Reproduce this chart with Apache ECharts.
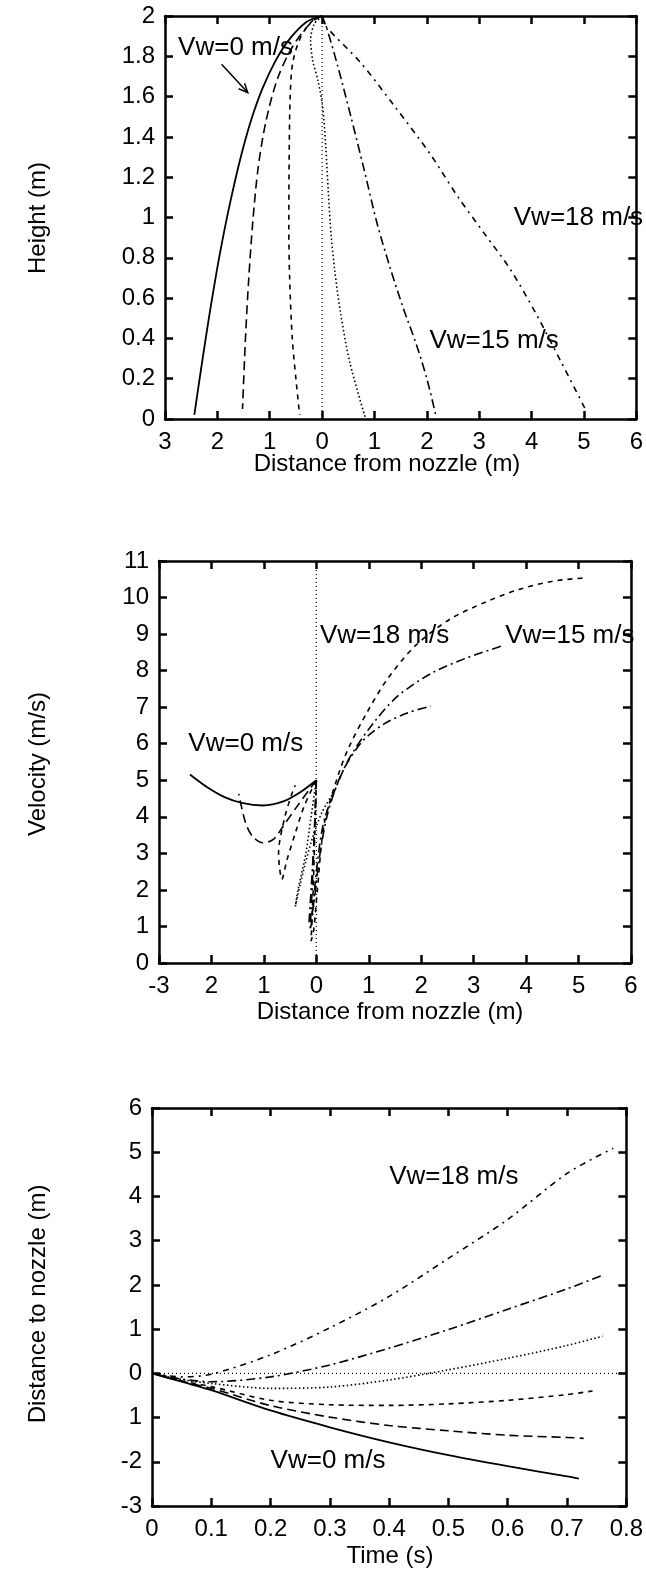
<!DOCTYPE html>
<html><head><meta charset="utf-8">
<script src="https://cdn.jsdelivr.net/npm/echarts@6/dist/echarts.min.js"></script>
<style>html,body{margin:0;padding:0;background:#fff}#c{width:646px;height:1573px}</style>
</head><body><div id="c"></div>
<script>
// ---------- tick labels ----------
const p1XTicks = ['3','2','1','0','1','2','3','4','5','6'];
const p1YTicks = ['0','0.2','0.4','0.6','0.8','1','1.2','1.4','1.6','1.8','2'];
const p2XTicks = ['-3','2','1','0','1','2','3','4','5','6'];
const p2YTicks = ['0','1','2','3','4','5','6','7','8','9','10','11'];
const p3XTicks = ['0','0.1','0.2','0.3','0.4','0.5','0.6','0.7','0.8'];
const p3YTicks = ['-3','-2','1','0','1','2','3','4','5','6'];

// ---------- Panel 1: height (m) vs distance from nozzle (m) ----------
const h_vw0  = [[0,2.0],[-0.3,1.97],[-0.66,1.873],[-0.9,1.772],[-1.13,1.646],[-1.3,1.527],[-1.46,1.391],[-1.6,1.251],[-1.75,1.081],[-1.87,0.931],[-2.0,0.752],[-2.15,0.52],[-2.3,0.268],[-2.44,0.02]];
const h_vw3  = [[0,2.0],[-0.2,1.97],[-0.56,1.85],[-0.85,1.69],[-1.07,1.48],[-1.22,1.25],[-1.32,0.99],[-1.40,0.7],[-1.46,0.42],[-1.52,0.05]];
const h_vw6  = [[0,2.0],[-0.17,1.98],[-0.4,1.9],[-0.56,1.77],[-0.61,1.6],[-0.63,1.27],[-0.635,0.95],[-0.62,0.7],[-0.57,0.4],[-0.5,0.2],[-0.43,0.02]];
const h_vw9  = [[0,2.0],[-0.15,1.96],[-0.22,1.88],[-0.18,1.78],[-0.08,1.68],[0.01,1.55],[0.07,1.35],[0.12,1.12],[0.17,0.92],[0.24,0.74],[0.35,0.53],[0.53,0.28],[0.82,0.01]];
const h_vw15 = [[0,2.0],[0.1,1.93],[0.3,1.75],[0.55,1.5],[0.8,1.24],[1.05,0.97],[1.3,0.75],[1.55,0.55],[1.8,0.37],[2.0,0.2],[2.17,0.02]];
const h_vw18 = [[0,2.0],[0.07,1.95],[0.73,1.77],[1.39,1.55],[2.05,1.32],[2.6,1.1],[3.1,0.92],[3.6,0.74],[4.1,0.515],[4.57,0.28],[5.03,0.047]];

// ---------- Panel 2: velocity (m/s) vs distance from nozzle (m) ----------
const v_vw0  = [[0,5.0],[-0.3,4.68],[-0.63,4.42],[-1.02,4.31],[-1.42,4.38],[-1.75,4.54],[-2.08,4.81],[-2.41,5.16]];
const v_vw3  = [[0,5.0],[-0.1,4.81],[-0.36,4.3],[-0.63,3.75],[-0.82,3.38],[-1.02,3.29],[-1.22,3.47],[-1.35,3.84],[-1.48,4.63]];
const v_vw6  = [[0,5.0],[-0.23,4.3],[-0.4,3.56],[-0.56,2.82],[-0.66,2.29],[-0.7,2.6],[-0.72,3.0],[-0.6,4.0],[-0.45,4.7],[-0.4,4.86]];
const v_vw9  = [[0,5.0],[-0.1,4.0],[-0.2,3.0],[-0.35,2.0],[-0.4,1.55],[-0.3,2.2],[-0.1,3.3],[0.1,4.1],[0.3,4.6]];
const v_vw12 = [[0,5.0],[-0.04,3.5],[-0.1,2.0],[-0.14,1.1],[-0.06,1.5],[0.05,2.8],[0.2,4.0],[0.4,4.9],[0.6,5.5],[0.9,6.1],[1.3,6.55],[1.75,6.85],[2.18,7.03]];
const v_vw15 = [[0,5.0],[-0.04,3.5],[-0.08,2.0],[-0.12,0.9],[-0.08,1.2],[0.0,2.5],[0.15,3.9],[0.49,5.2],[0.69,5.75],[1.09,6.57],[1.55,7.3],[2.21,7.94],[2.87,8.35],[3.53,8.67]];
const v_vw18 = [[0,5.0],[-0.03,3.5],[-0.06,2.0],[-0.1,0.6],[-0.05,0.9],[0.02,2.0],[0.15,3.8],[0.43,5.2],[0.63,5.93],[0.96,6.84],[1.35,7.76],[1.88,8.67],[2.54,9.4],[3.2,9.86],[3.86,10.22],[4.52,10.45],[5.15,10.54]];

// ---------- Panel 3: distance to nozzle (m) vs time (s) ----------
const t_vw0  = [[0,0],[0.05,-0.19],[0.1,-0.38],[0.2,-0.84],[0.3,-1.22],[0.4,-1.56],[0.5,-1.85],[0.6,-2.1],[0.7,-2.33],[0.72,-2.38]];
const t_vw3  = [[0,0],[0.05,-0.18],[0.1,-0.34],[0.2,-0.73],[0.3,-0.99],[0.4,-1.18],[0.5,-1.3],[0.6,-1.4],[0.7,-1.45],[0.728,-1.47]];
const t_vw6  = [[0,0],[0.05,-0.17],[0.1,-0.3],[0.2,-0.61],[0.3,-0.71],[0.4,-0.725],[0.5,-0.69],[0.6,-0.61],[0.7,-0.48],[0.743,-0.4]];
const t_vw9  = [[0,0],[0.05,-0.14],[0.1,-0.23],[0.2,-0.34],[0.3,-0.31],[0.4,-0.15],[0.5,0.08],[0.6,0.34],[0.7,0.63],[0.76,0.84]];
const t_vw15 = [[0,0],[0.05,-0.13],[0.1,-0.19],[0.2,-0.08],[0.3,0.19],[0.4,0.57],[0.5,0.99],[0.6,1.45],[0.7,1.91],[0.76,2.22]];
const t_vw18 = [[0,0],[0.05,-0.08],[0.1,-0.02],[0.2,0.42],[0.3,1.03],[0.4,1.74],[0.5,2.6],[0.6,3.48],[0.7,4.52],[0.778,5.09]];
// zero axes (dotted)
const zeroAxis1 = [[0,0],[0,2]];
const zeroAxis2 = [[0,0],[0,11]];
const zeroAxis3 = [[0,0],[0.8,0]];

const FONT = 'Liberation Sans, Arial, sans-serif';
const FS = 24;      // tick labels & axis titles
const FSA = 26;     // annotations
const styles = {
  solid:   {type:'solid', width:1.8},
  longdash:{type:[9,5], width:1.6},
  dash:    {type:[5,5], width:1.6},
  dot:     {type:[1.5,2.5], width:1.6},
  dashdot: {type:[9,4,2,4], width:1.6},
  dashdot2:{type:[6,5,2,5], width:1.6},
  zero:    {type:[1,3], width:1.2}
};
function ser(data, st, g, smooth){
  return {type:'line', xAxisIndex:g*2, yAxisIndex:g*2, data:data, showSymbol:false, symbol:'none',
    smooth: smooth===undefined?0.3:smooth, silent:true, animation:false,
    lineStyle:Object.assign({color:'#000'}, styles[st])};
}
const grids = [
  {left:165, top:16, width:475, height:403},
  {left:159, top:561, width:472, height:402},
  {left:152, top:1108, width:476, height:398}
];
const ranges = [
  {xmin:-3,xmax:6,xi:1,ymin:0,ymax:2,yi:0.2,xt:p1XTicks,yt:p1YTicks},
  {xmin:-3,xmax:6,xi:1,ymin:0,ymax:11,yi:1,xt:p2XTicks,yt:p2YTicks},
  {xmin:0,xmax:0.8,xi:0.1,ymin:-3,ymax:6,yi:1,xt:p3XTicks,yt:p3YTicks}
];
const xAxes=[], yAxes=[];
ranges.forEach((r,g)=>{
  const common = {type:'value', gridIndex:g, splitLine:{show:false},
    axisLine:{show:true,onZero:false,lineStyle:{color:'#000',width:2.5}},
    axisTick:{show:true,inside:true,length:8,lineStyle:{color:'#000',width:2.5}}};
  const fx = v=>{const i=Math.round((v-r.xmin)/r.xi);return r.xt[i]!==undefined?r.xt[i]:'';};
  const fy = v=>{const i=Math.round((v-r.ymin)/r.yi);return r.yt[i]!==undefined?r.yt[i]:'';};
  xAxes.push(Object.assign({}, common, {position:'bottom', min:r.xmin, max:r.xmax, interval:r.xi,
    axisLabel:{show:true, formatter:fx, color:'#000', fontFamily:FONT, fontSize:FS, margin:11}}));
  xAxes.push(Object.assign({}, common, {position:'top', min:r.xmin, max:r.xmax, interval:r.xi, axisLabel:{show:false}}));
  yAxes.push(Object.assign({}, common, {position:'left', min:r.ymin, max:r.ymax, interval:r.yi,
    axisLabel:{show:true, formatter:fy, color:'#000', fontFamily:FONT, fontSize:FS, margin:10}}));
  yAxes.push(Object.assign({}, common, {position:'right', min:r.ymin, max:r.ymax, interval:r.yi, axisLabel:{show:false}}));
});

const series = [
  ser(zeroAxis1,'zero',0,false),
  ser(h_vw0,'solid',0), ser(h_vw3,'longdash',0), ser(h_vw6,'dash',0), ser(h_vw9,'dot',0), ser(h_vw15,'dashdot',0), ser(h_vw18,'dashdot2',0),
  ser(zeroAxis2,'zero',1,false),
  ser(v_vw0,'solid',1), ser(v_vw3,'longdash',1), ser(v_vw6,'dash',1), ser(v_vw9,'dot',1), ser(v_vw12,'dashdot',1), ser(v_vw15,'dashdot',1), ser(v_vw18,'dash',1),
  ser(zeroAxis3,'zero',2,false),
  ser(t_vw0,'solid',2), ser(t_vw3,'longdash',2), ser(t_vw6,'dash',2), ser(t_vw9,'dot',2), ser(t_vw15,'dashdot',2), ser(t_vw18,'dashdot2',2)
];

const chart = echarts.init(document.getElementById('c'), null, {renderer:'canvas'});
chart.setOption({animation:false, grid:grids, xAxis:xAxes, yAxis:yAxes, series:series});

function px(g, x, y){ return chart.convertToPixel({gridIndex:g}, [x,y]); }
function txt(text, x, y, size, align){
  return {type:'text', x:x, y:y, style:{text:text, fill:'#000', font: size+'px '+FONT,
    textAlign:align||'left', textVerticalAlign:'middle'}};
}
function vtxt(text, x, y){
  return {type:'text', x:x, y:y, rotation:Math.PI/2, style:{text:text, fill:'#000', font:FS+'px '+FONT, textAlign:'center', textVerticalAlign:'middle'}};
}
const g = [];
// axis titles
g.push(vtxt('Height (m)', 38, 218));
g.push(vtxt('Velocity (m/s)', 38, 764));
g.push(vtxt('Distance to nozzle (m)', 38, 1304));
g.push(txt('Distance from nozzle (m)', 387, 464, FS, 'center'));
g.push(txt('Distance from nozzle (m)', 390, 1012, FS, 'center'));
g.push(txt('Time (s)', 390, 1556, FS, 'center'));
// annotations
let p;
p = px(0,-2.75,1.84); g.push(txt('Vw=0 m/s', p[0], p[1], FSA));
p = px(0,3.66,1.0); g.push(txt('Vw=18 m/s', p[0], p[1], FSA));
p = px(0,2.05,0.39); g.push(txt('Vw=15 m/s', p[0], p[1], FSA));
const a0 = px(0,-1.92,1.76), a1 = px(0,-1.42,1.62);
g.push({type:'line', shape:{x1:a0[0],y1:a0[1],x2:a1[0],y2:a1[1]}, style:{stroke:'#000', lineWidth:1.5}});
(function(){
  const dx=a1[0]-a0[0], dy=a1[1]-a0[1], L=Math.hypot(dx,dy), ux=dx/L, uy=dy/L, s=9;
  const b1=[a1[0]-s*ux+s*0.45*uy, a1[1]-s*uy-s*0.45*ux], b2=[a1[0]-s*ux-s*0.45*uy, a1[1]-s*uy+s*0.45*ux];
  g.push({type:'polyline', shape:{points:[b1,a1,b2]}, style:{stroke:'#000', lineWidth:1.5, fill:null}});
})();
p = px(1,0.07,8.95); g.push(txt('Vw=18 m/s', p[0], p[1], FSA));
p = px(1,3.6,8.95); g.push(txt('Vw=15 m/s', p[0], p[1], FSA));
p = px(1,-2.44,6.0); g.push(txt('Vw=0 m/s', p[0], p[1], FSA));
p = px(2,0.4,4.45); g.push(txt('Vw=18 m/s', p[0], p[1], FSA));
p = px(2,0.2,-1.98); g.push(txt('Vw=0 m/s', p[0], p[1], FSA));
chart.setOption({graphic:g});
</script></body></html>
